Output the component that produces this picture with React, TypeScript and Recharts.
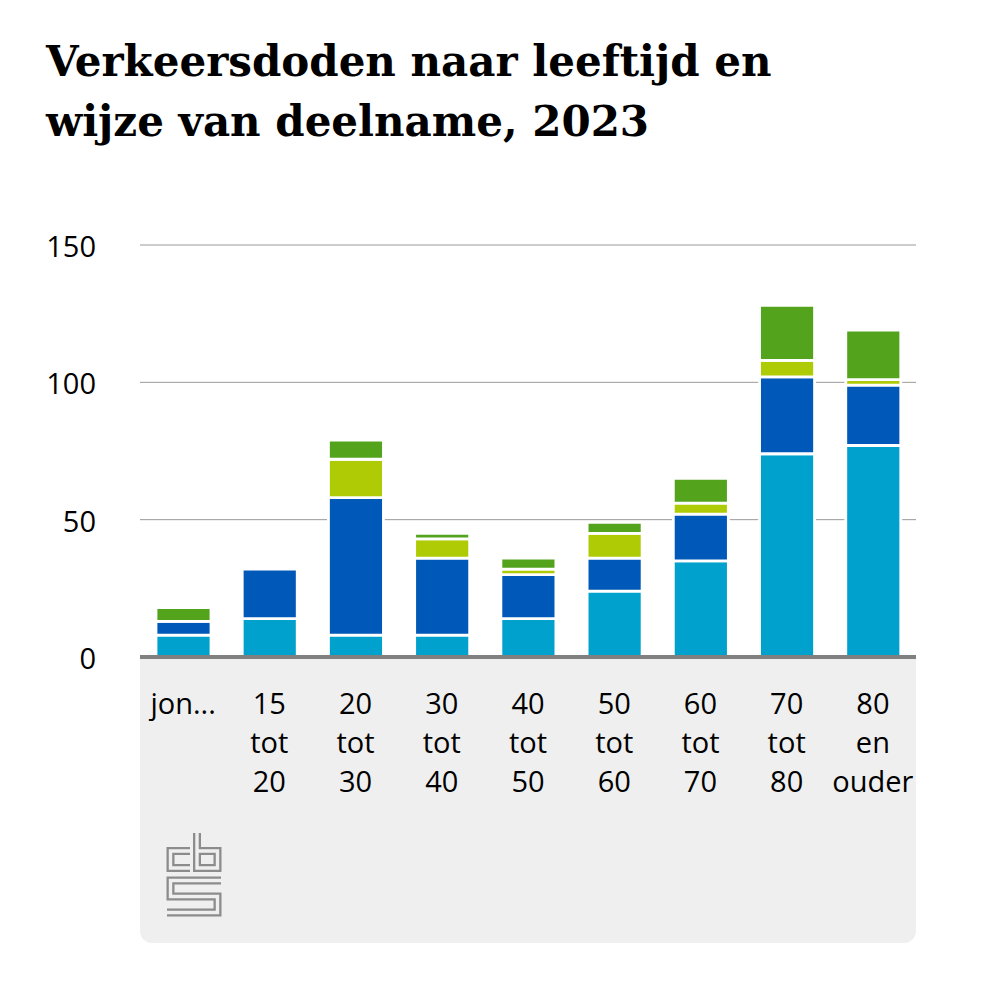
import { Bar, BarChart, CartesianGrid, XAxis, YAxis } from "recharts";

const categories = ["jon...", "15 tot 20", "20 tot 30", "30 tot 40", "40 tot 50", "50 tot 60", "60 tot 70", "70 tot 80", "80 en ouder"];
const fietser = [8, 14, 8, 8, 14, 24, 35, 74, 77];
const auto = [5, 18, 50, 28, 16, 12, 17, 28, 22];
const motor = [0, 0, 14, 7, 2, 9, 4, 6, 2];
const overig = [5, 0, 7, 2, 4, 4, 9, 20, 18];
const yTicks = [0, 50, 100, 150];

const data = categories.map((name, i) => ({
  name,
  fietser: fietser[i],
  auto: auto[i],
  motor: motor[i],
  overig: overig[i]
}));

const W = 1000;
const H = 985;
const PLOT_LEFT = 140;
const PLOT_RIGHT = 916;
const PLOT_TOP = 245;
const PLOT_BOTTOM = 657;
const labelFont = "'Open Sans', sans-serif";

function XTick({ x, payload }: any) {
  const lines = String(payload.value).split(" ");
  return (
    <text x={x} y={PLOT_BOTTOM + 57} textAnchor="middle" fontFamily={labelFont} fontSize={29} fill="#000">
      {lines.map((line, i) => (
        <tspan key={i} x={x} dy={i === 0 ? 0 : 39}>
          {line}
        </tspan>
      ))}
    </text>
  );
}

function YTick({ y, payload }: any) {
  return (
    <text x={96} y={y + 12} textAnchor="end" fontFamily={labelFont} fontSize={29} fill="#000">
      {payload.value}
    </text>
  );
}

function CbsLogo() {
  const c = "M190,851 H170.5 V868 H190";
  const b = "M197,833 V868 H217.5 V851 H197";
  const s = "M221,880.5 H170.5 V896.5 H217.5 V912.5 H167";
  return (
    <g fill="none" strokeLinejoin="miter">
      {[c, b, s].map((d, i) => (
        <g key={i}>
          <path d={d} stroke="#8c8c8c" strokeWidth={8} />
          <path d={d} stroke="#efefef" strokeWidth={3.4} />
        </g>
      ))}
    </g>
  );
}

export default function App() {
  return (
    <div style={{ position: "absolute", left: 0, top: 0, width: W, height: H, background: "#fff" }}>
      <div
        style={{
          position: "absolute",
          left: PLOT_LEFT,
          top: PLOT_BOTTOM,
          width: PLOT_RIGHT - PLOT_LEFT,
          height: 943 - PLOT_BOTTOM,
          background: "#efefef",
          borderRadius: "0 0 12px 12px"
        }}
      />
      <div style={{ position: "absolute", left: 0, top: 0 }}>
        <BarChart
          width={W}
          height={H}
          data={data}
          margin={{ top: PLOT_TOP, right: W - PLOT_RIGHT, bottom: H - PLOT_BOTTOM - 200, left: PLOT_LEFT - 60 }}
        >
          <CartesianGrid vertical={false} stroke="#9a9a9a" strokeWidth={1} />
          <YAxis
            width={60}
            domain={[0, 150]}
            ticks={yTicks}
            axisLine={false}
            tickLine={false}
            tick={<YTick />}
          />
          <XAxis
            dataKey="name"
            height={200}
            interval={0}
            tickLine={false}
            axisLine={{ stroke: "#808080", strokeWidth: 4 }}
            tick={<XTick />}
          />
          <Bar dataKey="fietser" name="Fietser" stackId="a" fill="#00a1cd" stroke="#fff" strokeWidth={2.8} barSize={55} isAnimationActive={false} />
          <Bar dataKey="auto" name="Auto-inzittende" stackId="a" fill="#0058b8" stroke="#fff" strokeWidth={2.8} barSize={55} isAnimationActive={false} />
          <Bar dataKey="motor" name="Motor/brommer" stackId="a" fill="#afcb05" stroke="#fff" strokeWidth={2.8} barSize={55} isAnimationActive={false} />
          <Bar dataKey="overig" name="Overig" stackId="a" fill="#53a31d" stroke="#fff" strokeWidth={2.8} barSize={55} isAnimationActive={false} />
        </BarChart>
      </div>
      <svg width={W} height={H} style={{ position: "absolute", left: 0, top: 0, pointerEvents: "none" }}>
        <g fontFamily="'DejaVu Serif', serif" fontWeight="bold" fontSize={42} fill="#000">
          <text x={46} y={76}>Verkeersdoden naar leeftijd en</text>
          <text x={46} y={136}>wijze van deelname, 2023</text>
        </g>
        <CbsLogo />
      </svg>
    </div>
  );
}
